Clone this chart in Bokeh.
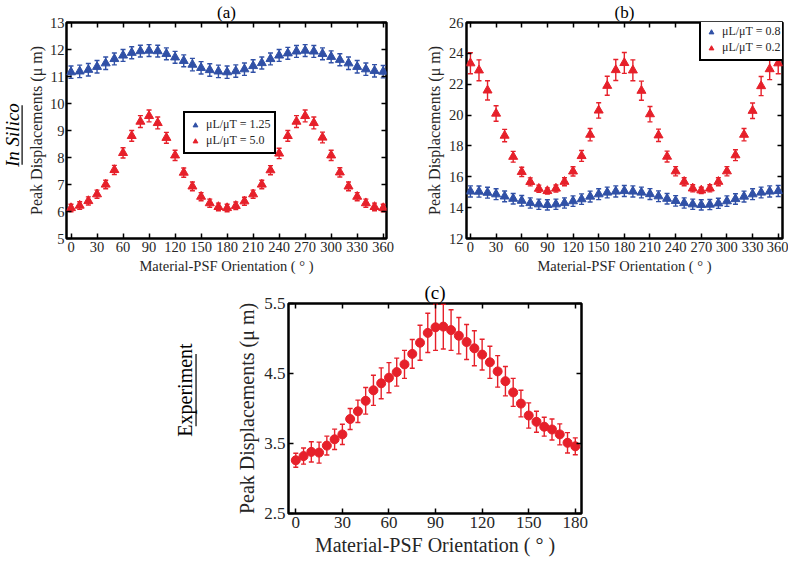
import numpy as np
from bokeh.plotting import figure
from bokeh.models import (ColumnDataSource, Whisker, TeeHead, Range1d, LinearAxis,
                          FixedTicker, Legend, LegendItem, Label)
from bokeh.layouts import row, column
from bokeh.embed import file_html
from bokeh.resources import INLINE

FONT = "Liberation Serif"
BLUE = "#3050a6"
RED = "#e6202a"

# ---------------- data ----------------
angles_ab = [0, 10, 20, 30, 40, 50, 60, 70, 80, 90, 100, 110, 120, 130, 140, 150, 160, 170, 180,
             190, 200, 210, 220, 230, 240, 250, 260, 270, 280, 290, 300, 310, 320, 330, 340, 350, 360]

a_blue = [11.16, 11.19, 11.25, 11.36, 11.49, 11.65, 11.78, 11.88, 11.94, 11.96, 11.94, 11.84, 11.71,
          11.58, 11.44, 11.32, 11.24, 11.19, 11.16,
          11.2, 11.27, 11.39, 11.5, 11.65, 11.78, 11.86, 11.93, 11.96, 11.93, 11.84, 11.73, 11.62,
          11.49, 11.36, 11.27, 11.21, 11.18]
a_blue_err = [0.23, 0.23, 0.23, 0.23, 0.23, 0.22, 0.22, 0.22, 0.22, 0.22, 0.22, 0.22, 0.22,
              0.22, 0.23, 0.23, 0.23, 0.23, 0.23,
              0.23, 0.23, 0.23, 0.22, 0.22, 0.22, 0.22, 0.22, 0.22, 0.22, 0.22, 0.22, 0.22,
              0.23, 0.23, 0.23, 0.23, 0.23]
a_red = [6.13, 6.22, 6.39, 6.64, 7.0, 7.54, 8.17, 8.8, 9.33, 9.54, 9.28, 8.73, 8.08, 7.44, 6.93,
         6.55, 6.31, 6.17, 6.13,
         6.21, 6.38, 6.64, 7.0, 7.53, 8.15, 8.8, 9.33, 9.54, 9.28, 8.74, 8.08, 7.45, 6.93, 6.55,
         6.31, 6.17, 6.13]
a_red_err = [0.14, 0.14, 0.15, 0.15, 0.16, 0.17, 0.19, 0.2, 0.22, 0.22, 0.22, 0.2, 0.19, 0.17,
             0.16, 0.15, 0.15, 0.14, 0.14,
             0.14, 0.15, 0.15, 0.16, 0.17, 0.19, 0.2, 0.22, 0.22, 0.22, 0.2, 0.19, 0.17, 0.16,
             0.15, 0.15, 0.14, 0.14]

b_blue = [15.05, 15.04, 14.97, 14.87, 14.73, 14.58, 14.45, 14.3, 14.22, 14.18, 14.22, 14.3, 14.42,
          14.55, 14.72, 14.87, 14.98, 15.05, 15.08,
          15.05, 14.98, 14.88, 14.74, 14.58, 14.44, 14.3, 14.22, 14.18, 14.2, 14.28, 14.42, 14.56,
          14.72, 14.87, 14.98, 15.05, 15.08]
b_blue_err = [0.36, 0.36, 0.35, 0.35, 0.35, 0.34, 0.34, 0.33, 0.33, 0.33, 0.33, 0.33, 0.34,
              0.34, 0.35, 0.35, 0.35, 0.36, 0.36,
              0.36, 0.35, 0.35, 0.35, 0.34, 0.34, 0.33, 0.33, 0.33, 0.33, 0.33, 0.34, 0.34,
              0.35, 0.35, 0.35, 0.36, 0.36]
b_red = [23.36, 22.9, 21.6, 20.1, 18.67, 17.3, 16.32, 15.67, 15.23, 15.08, 15.24, 15.68, 16.35,
         17.35, 18.73, 20.3, 21.9, 22.92, 23.38,
         22.9, 21.58, 20.06, 18.69, 17.31, 16.36, 15.68, 15.25, 15.12, 15.25, 15.68, 16.36, 17.4,
         18.73, 20.28, 21.88, 22.98, 23.36]
b_red_err = [0.68, 0.68, 0.62, 0.5, 0.4, 0.35, 0.3, 0.26, 0.23, 0.2, 0.23, 0.26, 0.3, 0.35, 0.4,
             0.5, 0.62, 0.68, 0.68,
             0.68, 0.62, 0.5, 0.4, 0.35, 0.3, 0.26, 0.23, 0.2, 0.23, 0.26, 0.3, 0.35, 0.4, 0.5,
             0.62, 0.68, 0.68]

angles_c = [0, 5, 10, 15, 20, 25, 30, 35, 40, 45, 50, 55, 60, 65, 70, 75, 80, 85, 90, 95, 100,
            105, 110, 115, 120, 125, 130, 135, 140, 145, 150, 155, 160, 165, 170, 175, 180]
c_vals = [3.26, 3.32, 3.38, 3.37, 3.47, 3.56, 3.63, 3.85, 3.96, 4.11, 4.26, 4.36, 4.44, 4.52,
          4.63, 4.78, 4.94, 5.08, 5.16, 5.17, 5.12, 5.04, 4.95, 4.86, 4.77, 4.66, 4.53, 4.39,
          4.23, 4.07, 3.9, 3.81, 3.74, 3.7, 3.63, 3.51, 3.46]
c_err = [0.1, 0.115, 0.145, 0.15, 0.135, 0.145, 0.145, 0.15, 0.16, 0.19, 0.215, 0.22, 0.215,
         0.2, 0.2, 0.205, 0.25, 0.28, 0.33, 0.32, 0.29, 0.26, 0.25, 0.25, 0.22, 0.23, 0.225,
         0.21, 0.2, 0.19, 0.18, 0.15, 0.135, 0.15, 0.15, 0.145, 0.12]

xticks_ab = [0, 30, 60, 90, 120, 150, 180, 210, 240, 270, 300, 330, 360]
yticks_a = [5, 6, 7, 8, 9, 10, 11, 12, 13]
yticks_b = [12, 14, 16, 18, 20, 22, 24, 26]
xticks_c = [0, 30, 60, 90, 120, 150, 180]
yticks_c = [2.5, 3.5, 4.5, 5.5]

XLABEL = "Material-PSF Orientation ( \u00b0 )"
YLABEL = "Peak Displacements (\u03bc m)"


def style_axis(ax, ticks, fs, lfs, std=3):
    ax.ticker = FixedTicker(ticks=ticks)
    ax.major_tick_in = 5
    ax.major_tick_out = 0
    ax.minor_tick_line_color = None
    ax.axis_line_color = None
    ax.major_tick_line_color = "black"
    ax.major_tick_line_width = 1.5
    ax.major_label_text_font = FONT
    ax.major_label_text_font_size = fs
    ax.major_label_text_color = "#262626"
    ax.major_label_standoff = std
    ax.axis_label_text_font = FONT
    ax.axis_label_text_font_style = "normal"
    ax.axis_label_text_font_size = lfs
    ax.axis_label_text_color = "#262626"
    ax.axis_label_standoff = std


def make_panel(title, xr, yr, xticks, yticks, fw, fh, borders, tfs, fs, xlfs, ylfs, ystd=3):
    p = figure(frame_width=fw, frame_height=fh, x_range=Range1d(*xr), y_range=Range1d(*yr),
               output_backend="svg", toolbar_location=None, title=title,
               x_axis_label=XLABEL, y_axis_label=YLABEL,
               min_border_left=borders[0], min_border_right=borders[1],
               min_border_top=borders[2], min_border_bottom=borders[3])
    p.grid.visible = False
    p.background_fill_color = "white"
    p.border_fill_color = "white"
    p.outline_line_color = "black"
    p.outline_line_width = 2.5
    p.outline_line_alpha = 1.0
    p.title.align = "center"
    p.title.text_font = FONT
    p.title.text_font_style = "normal"
    p.title.text_font_size = tfs
    p.title.text_color = "black"
    p.title.standoff = 1
    style_axis(p.xaxis[0], xticks, fs, xlfs)
    style_axis(p.yaxis[0], yticks, fs, ylfs, ystd)
    # mirrored inward ticks on the top and right edges (box on), without labels
    for side, ticks in (("right", yticks), ("above", xticks)):
        ax = LinearAxis(ticker=FixedTicker(ticks=ticks), major_tick_in=5, major_tick_out=0,
                        minor_tick_line_color=None, axis_line_color=None,
                        major_tick_line_color="black", major_tick_line_width=1.5,
                        major_label_text_color=None, major_label_text_font_size="1px",
                        major_label_standoff=0, axis_label_standoff=0)
        p.add_layout(ax, side)
    return p


def add_series(p, x, y, err, color, marker, size):
    y = np.array(y, dtype=float)
    e = np.array(err, dtype=float)
    src = ColumnDataSource(dict(x=x, y=y, upper=y + e, lower=y - e))
    w = Whisker(base="x", upper="upper", lower="lower", source=src,
                line_color=color, line_width=1.4,
                upper_head=TeeHead(size=5, line_color=color, line_width=1.4),
                lower_head=TeeHead(size=5, line_color=color, line_width=1.4))
    p.add_layout(w)
    r = p.scatter("x", "y", source=src, marker=marker, size=size,
                  fill_color=color, line_color=color)
    return r


def make_legend(items, loc):
    return Legend(items=items, location=loc, border_line_color="black",
                  border_line_width=2.5, border_line_alpha=1.0,
                  background_fill_color="white", background_fill_alpha=1.0,
                  label_text_font=FONT, label_text_font_size="12px",
                  label_text_color="#262626",
                  glyph_width=12, glyph_height=14, label_height=14,
                  label_standoff=5, spacing=1, padding=4, margin=0)


# ---------------- panel (a) ----------------
pa = make_panel("(a)", (-5.2, 363.8), (5, 13), xticks_ab, yticks_a, 320, 216,
                (38, 10, 20, 39), "17px", "14.5px", "14.5px", "16px", ystd=2)
ra_b = add_series(pa, angles_ab, a_blue, a_blue_err, BLUE, "triangle", 9)
ra_r = add_series(pa, angles_ab, a_red, a_red_err, RED, "triangle", 9)
pa.add_layout(make_legend([LegendItem(label="\u03bcL/\u03bcT = 1.25", renderers=[ra_b]),
                           LegendItem(label="\u03bcL/\u03bcT = 5.0", renderers=[ra_r])],
                          (117, 84)))

# ---------------- panel (b) ----------------
pb = make_panel("(b)", (-4.6, 365.0), (12, 26), xticks_ab, yticks_b, 316, 216,
                (70, 6, 20, 39), "17px", "14.5px", "14.5px", "16px")
rb_b = add_series(pb, angles_ab, b_blue, b_blue_err, BLUE, "triangle", 9)
rb_r = add_series(pb, angles_ab, b_red, b_red_err, RED, "triangle", 9)
pb.add_layout(make_legend([LegendItem(label="\u03bcL/\u03bcT = 0.8", renderers=[rb_b]),
                           LegendItem(label="\u03bcL/\u03bcT = 0.2", renderers=[rb_r])],
                          (233, 177)))

# ---------------- panel (c) ----------------
pc = make_panel("(c)", (-4.7, 184.0), (2.5, 5.5), xticks_c, yticks_c, 293, 210,
                (86, 10, 26, 46), "19px", "17px", "20px", "20px")
add_series(pc, angles_c, c_vals, c_err, RED, "circle", 9)


# ---------------- side labels ----------------
def label_fig(w, h, text, style, fs, tx, ty, ux, uy0, uy1):
    f = figure(width=w, height=h, x_range=Range1d(0, 1), y_range=Range1d(0, 1),
               output_backend="svg", toolbar_location=None, min_border=0,
               x_axis_type=None, y_axis_type=None)
    f.grid.visible = False
    f.outline_line_color = None
    f.add_layout(Label(x=tx, y=ty, text=text, angle=90, angle_units="deg",
                       text_align="center", text_baseline="middle", text_font=FONT,
                       text_font_style=style, text_font_size=fs, text_color="black"))
    f.segment(x0=[ux], y0=[uy0], x1=[ux], y1=[uy1], line_color="black", line_width=1.2)
    return f


lab1 = label_fig(24, 275, "In Silico", "italic", "19px", 0.52, 0.474, 0.9, 0.335, 0.613)
lab2 = label_fig(202, 282, "Experiment", "normal", "20px", 0.915, 0.588, 0.968, 0.415, 0.76)

layout = column(row(lab1, pa, pb), row(lab2, pc))

open("out.html", "w").write(file_html(layout, INLINE))
